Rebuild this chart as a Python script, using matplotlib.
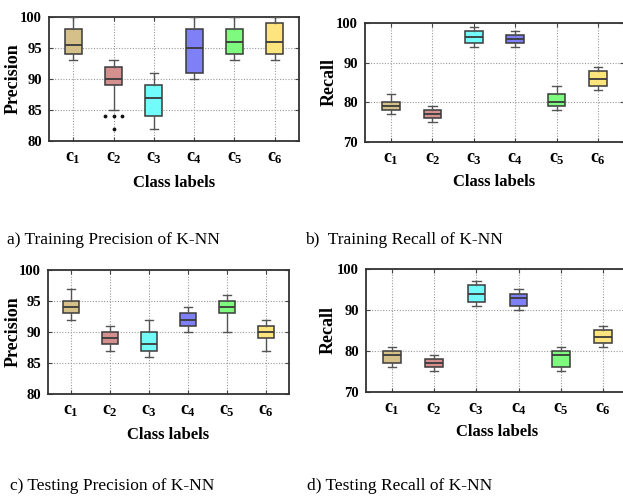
import matplotlib
matplotlib.use("Agg")
import matplotlib.pyplot as plt

plt.rcParams["font.family"] = ["Liberation Serif", "DejaVu Serif"]
plt.rcParams["mathtext.fontset"] = "custom"
plt.rcParams["mathtext.rm"] = "Liberation Serif:bold"
plt.rcParams["mathtext.it"] = "Liberation Serif:bold"
plt.rcParams["mathtext.bf"] = "Liberation Serif:bold"

CLASSES = [r"$c_1$", r"$c_2$", r"$c_3$", r"$c_4$", r"$c_5$", r"$c_6$"]
COLORS = ["#d6c08a", "#d48f8f", "#72fbfb", "#8080f6", "#7efa7e", "#fde47c"]

# per-class summaries: (whisker low, q1, median, q3, whisker high)
TRAIN_PRECISION = [(93, 94, 95.5, 98, 100), (85, 89, 90, 92, 93), (82, 84, 87, 89, 91),
                   (90, 91, 95, 98, 100), (93, 94, 96, 98, 100), (93, 94, 96, 99, 100)]
TRAIN_RECALL = [(77, 78, 79, 80, 82), (75, 76, 77, 78, 79), (94, 95, 96.5, 98, 99),
                (94, 95, 96, 97, 98), (78, 79, 80, 82, 84), (83, 84, 86, 88, 89)]
TEST_PRECISION = [(92, 93, 94, 95, 97), (87, 88, 89, 90, 91), (86, 87, 88, 90, 92),
                  (90, 91, 92, 93, 94), (90, 93, 94, 95, 96), (87, 89, 90, 91, 92)]
TEST_RECALL = [(76, 77, 79, 80, 81), (75, 76, 77, 78, 79), (91, 92, 94, 96, 97),
               (90, 91, 93, 94, 95), (75, 76, 79, 80, 81), (81, 82, 83.5, 85, 86)]

# outliers of c2 in training precision, spread sideways so they don't overlap
C2_OUTLIERS = [84, 84, 84, 82]
C2_OUTLIER_SHIFT = [-0.2, 0.0, 0.2, 0.0]

PRECISION_TICKS = [80, 85, 90, 95, 100]
RECALL_TICKS = [70, 80, 90, 100]

W, H = 623, 496
EDGE = "#3a3a3a"


def px_axes(fig, left, top, right, bottom):
    return fig.add_axes([left / W, 1 - bottom / H, (right - left) / W, (bottom - top) / H])


def draw_panel(ax, summary, ylabel, yticks, xlim, ylabel_x, xlabel_y):
    stats = [dict(whislo=s[0], q1=s[1], med=s[2], q3=s[3], whishi=s[4], fliers=[])
             for s in summary]
    pos = list(range(1, len(stats) + 1))
    bp = ax.bxp(stats, positions=pos, widths=0.42, capwidths=0.2, patch_artist=True,
                showfliers=False,
                boxprops=dict(edgecolor=EDGE, linewidth=1.1),
                medianprops=dict(color=EDGE, linewidth=1.3),
                whiskerprops=dict(color="#555555", linewidth=1.0),
                capprops=dict(color="#555555", linewidth=1.0))
    for patch, c in zip(bp["boxes"], COLORS):
        patch.set_facecolor(c)
    for elem in bp["boxes"] + bp["medians"] + bp["whiskers"] + bp["caps"]:
        elem.set_zorder(3)

    ax.set_xlim(*xlim)
    ax.set_ylim(yticks[0], yticks[-1])
    ax.set_yticks(yticks)
    ax.set_xticks(pos)
    ax.set_xticklabels(CLASSES, fontsize=13)
    ax.set_yticklabels([str(t) for t in yticks], fontsize=10.5, fontweight="bold")
    ax.tick_params(direction="in", length=3, width=0.8, color="#444444",
                   top=True, right=True, pad=5)
    ax.tick_params(axis="x", pad=6)
    ax.grid(True, linestyle=(0, (1, 1.5)), color="#9a9a9a", linewidth=0.8, zorder=0)
    ax.set_axisbelow(True)
    for sp in ax.spines.values():
        sp.set_color("#333333")
        sp.set_linewidth(1.3)

    # axis titles placed by their centres, in figure pixels
    ax.set_xlabel("Class labels", fontsize=12, fontweight="bold", va="center")
    ax.set_ylabel(ylabel, fontsize=13, fontweight="bold", va="center")
    bbox = ax.get_position()
    ax.xaxis.set_label_coords((bbox.x0 + bbox.x1) / 2, 1 - xlabel_y / H,
                              transform=ax.figure.transFigure)
    ax.yaxis.set_label_coords(ylabel_x / W, (bbox.y0 + bbox.y1) / 2,
                              transform=ax.figure.transFigure)


fig = plt.figure(figsize=(W / 100, H / 100), dpi=100)

ax_a = px_axes(fig, 49, 17, 299, 141)
draw_panel(ax_a, TRAIN_PRECISION, "Precision", PRECISION_TICKS, (0.4, 6.6), 13, 183)
ax_a.scatter([2 + d for d in C2_OUTLIER_SHIFT], C2_OUTLIERS, s=3, color="#111111",
             zorder=4, clip_on=False)

ax_b = px_axes(fig, 365, 23, 624, 142)
draw_panel(ax_b, TRAIN_RECALL, "Recall", RECALL_TICKS, (0.37, 6.63), 329, 182)
# the right-hand panels run off the page edge, so centre the title on the visible part
ax_b.xaxis.set_label_coords(494 / W, 1 - 182 / H, transform=fig.transFigure)

ax_c = px_axes(fig, 48, 270, 289, 394)
draw_panel(ax_c, TEST_PRECISION, "Precision", PRECISION_TICKS, (0.4, 6.6), 13, 435)

ax_d = px_axes(fig, 366, 269, 629, 392)
draw_panel(ax_d, TEST_RECALL, "Recall", RECALL_TICKS, (0.38, 6.62), 328, 432)
ax_d.xaxis.set_label_coords(497 / W, 1 - 432 / H, transform=fig.transFigure)

captions = [
    (7, 240, "a) Training Precision of K-NN"),
    (305, 240, "b)  Training Recall of K-NN"),
    (10, 486, "c) Testing Precision of K-NN"),
    (307, 486, "d) Testing Recall of K-NN"),
]
for x, y, text in captions:
    fig.text(x / W, 1 - y / H, text, fontsize=12.5, ha="left", va="center")

fig.savefig("out.png", dpi=100)
